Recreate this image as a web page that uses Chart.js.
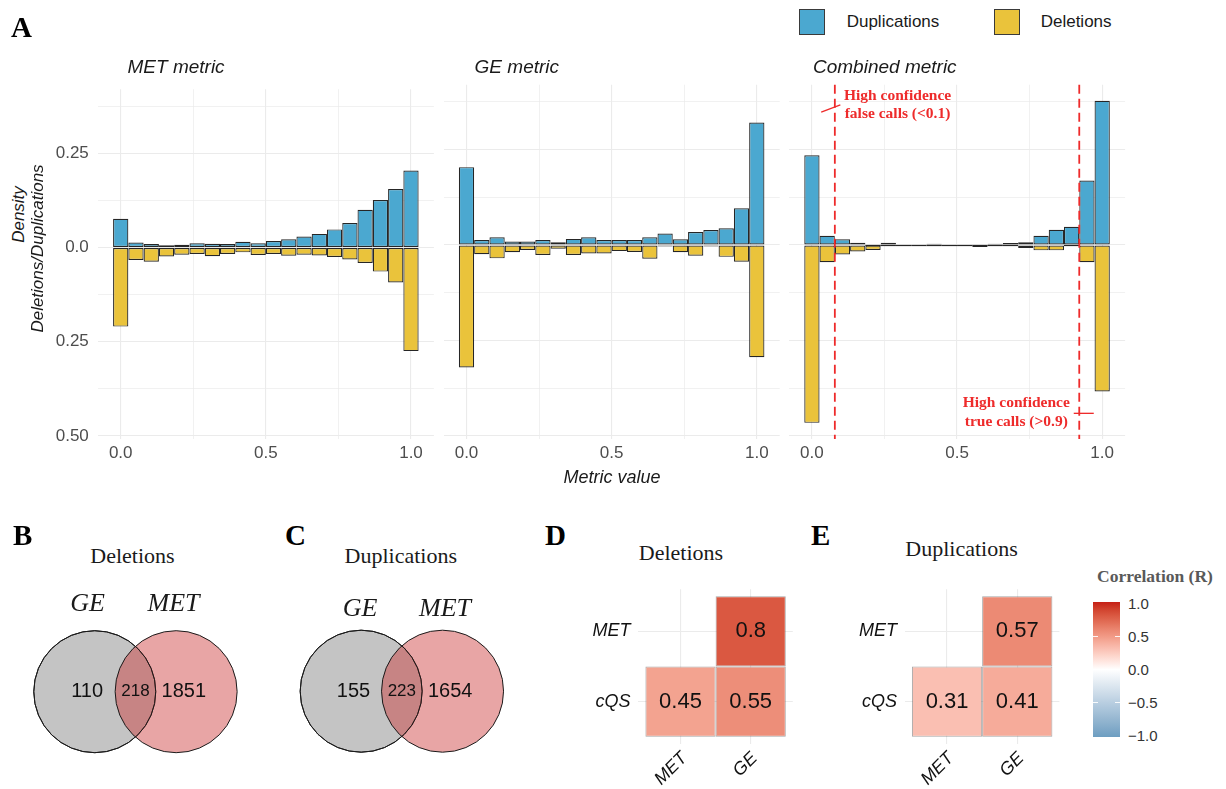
<!DOCTYPE html>
<html>
<head>
<meta charset="utf-8">
<script src="https://cdn.jsdelivr.net/npm/chart.js@4.4.1/dist/chart.umd.min.js"></script>
<style>
  html, body { margin: 0; padding: 0; background: #ffffff; }
  #fig { position: relative; width: 1226px; height: 789px; overflow: hidden;
         font-family: "Liberation Sans", Arial, sans-serif; color: #1a1a1a; }
  #fig canvas { position: absolute; }
  .t { position: absolute; white-space: nowrap; line-height: 1; }
</style>
</head>
<body>
<div id="fig"></div>
<script>
// ---------------- data ----------------
// histogram bins (20 bins spanning 0..1, centred on the bin midpoints)
const binCentres = [0, 0.0526, 0.1053, 0.1579, 0.2105, 0.2632, 0.3158, 0.3684, 0.4211, 0.4737,
                    0.5263, 0.5789, 0.6316, 0.6842, 0.7368, 0.7895, 0.8421, 0.8947, 0.9474, 1];

// density per bin; deletions are drawn below the axis
const metDuplications = [0.076, 0.013, 0.009, 0.006, 0.007, 0.011, 0.010, 0.009, 0.015, 0.011,
                         0.017, 0.022, 0.029, 0.036, 0.048, 0.065, 0.100, 0.126, 0.155, 0.204];
const metDeletions    = [0.210, 0.033, 0.038, 0.024, 0.019, 0.017, 0.023, 0.017, 0.013, 0.020,
                         0.017, 0.022, 0.019, 0.021, 0.025, 0.032, 0.041, 0.064, 0.093, 0.275];

const geDuplications  = [0.204, 0.013, 0.020, 0.009, 0.009, 0.013, 0.007, 0.016, 0.020, 0.013,
                         0.013, 0.013, 0.020, 0.030, 0.015, 0.034, 0.039, 0.044, 0.096, 0.321];
const geDeletions     = [0.321, 0.024, 0.035, 0.019, 0.013, 0.026, 0.010, 0.026, 0.022, 0.022,
                         0.016, 0.018, 0.036, 0.004, 0.019, 0.028, 0.004, 0.031, 0.044, 0.294];

const combDuplications = [0.235, 0.024, 0.015, 0.006, 0, 0.006, 0, 0, 0.003, 0,
                          0, 0, 0.003, 0.005, 0.007, 0.024, 0.040, 0.048, 0.169, 0.378];
const combDeletions    = [0.466, 0.045, 0.025, 0.017, 0.013, 0, 0, 0, 0, 0,
                          0, 0.005, 0, 0, 0.008, 0.014, 0.014, 0, 0.045, 0.384];

const panelTitles = ['MET metric', 'GE metric', 'Combined metric'];
const seriesNames = ['Duplications', 'Deletions'];

// axis ticks
const densityMajor  = [-0.5, -0.25, 0, 0.25];
const densityLabels = ['0.50', '0.25', '0.0', '0.25'];
const densityMinor  = [-0.375, -0.125, 0.125, 0.375];
const metricMajor   = [0, 0.5, 1];
const metricLabels  = ['0.0', '0.5', '1.0'];
const metricMinor   = [0.25, 0.75];

// confidence cut-offs on the combined metric
const thresholds = [0.079, 0.921];

// Venn counts: [GE only, both, MET only]
const vennSets = ['GE', 'MET'];
const vennDeletions = [110, 218, 1851];
const vennDuplications = [155, 223, 1654];

// correlation matrices (rows bottom->top, columns left->right)
const corrRows = ['cQS', 'MET'];
const corrCols = ['MET', 'GE'];
const corrDeletions    = [[0.45, 0.55], [null, 0.8]];
const corrDuplications = [[0.31, 0.41], [null, 0.57]];
const colourbarTicks  = [1, 0.5, 0, -0.5, -1];
const colourbarLabels = ['1.0', '0.5', '0.0', '\u22120.5', '\u22121.0'];

// ---------------- styles ----------------
const DUP_FILL = '#4BA8D0';
const DEL_FILL = '#EAC33B';
const BAR_EDGE = '#262626';
const GRID = '#EBEBEB';
const RED = '#EE2B2B';
const SANS = '"Liberation Sans", Arial, sans-serif';
const SERIF = '"Liberation Serif", "Times New Roman", serif';

Chart.defaults.font.family = SANS;
Chart.defaults.animation = false;

const fig = document.getElementById('fig');

function addCanvas(box) {
  const c = document.createElement('canvas');
  c.width = box.w; c.height = box.h;
  c.style.left = box.x + 'px'; c.style.top = box.y + 'px';
  c.style.width = box.w + 'px'; c.style.height = box.h + 'px';
  fig.appendChild(c);
  return c;
}

function label(text, x, y, style, anchor) {
  const d = document.createElement('div');
  d.className = 't';
  d.textContent = text;
  Object.assign(d.style, style);
  const fs = parseFloat(style.fontSize);
  d.style.left = x + 'px';
  d.style.top = (y - fs / 2) + 'px';
  if (anchor === 'center') d.style.transform = 'translateX(-50%)';
  if (anchor === 'right') d.style.transform = 'translateX(-100%)';
  if (anchor === 'vertical') d.style.transform = 'translateX(-50%) rotate(-90deg)';
  fig.appendChild(d);
  return d;
}

// padding + fixed axis sizes so the plot area lands on `area`
function frame(box, area) {
  return {
    padding: { left: 0, top: area.t - box.y, right: box.x + box.w - area.r, bottom: 0 },
    yWidth: area.l - box.x,
    xHeight: box.y + box.h - area.b
  };
}

// ---------------- colour scale (Lab interpolation through white) ----------------
function hexRgb(h) { return [1, 3, 5].map(i => parseInt(h.slice(i, i + 2), 16)); }
function lin(c) { c /= 255; return c <= 0.04045 ? c / 12.92 : Math.pow((c + 0.055) / 1.055, 2.4); }
function gam(c) { const v = c <= 0.0031308 ? 12.92 * c : 1.055 * Math.pow(c, 1 / 2.4) - 0.055; return Math.round(Math.max(0, Math.min(1, v)) * 255); }
function rgbLab(rgb) {
  const [r, g, b] = rgb.map(lin);
  const X = (0.4124 * r + 0.3576 * g + 0.1805 * b) / 0.95047;
  const Y = 0.2126 * r + 0.7152 * g + 0.0722 * b;
  const Z = (0.0193 * r + 0.1192 * g + 0.9505 * b) / 1.08883;
  const f = t => t > 0.008856 ? Math.cbrt(t) : 7.787 * t + 16 / 116;
  const fx = f(X), fy = f(Y), fz = f(Z);
  return [116 * fy - 16, 500 * (fx - fy), 200 * (fy - fz)];
}
function labRgb([L, a, b]) {
  const fy = (L + 16) / 116, fx = fy + a / 500, fz = fy - b / 200;
  const fi = t => t * t * t > 0.008856 ? t * t * t : (t - 16 / 116) / 7.787;
  const X = fi(fx) * 0.95047, Y = fi(fy), Z = fi(fz) * 1.08883;
  return [3.2406 * X - 1.5372 * Y - 0.4986 * Z,
          -0.9689 * X + 1.8758 * Y + 0.0415 * Z,
          0.0557 * X - 0.2040 * Y + 1.0570 * Z].map(gam);
}
const CORR_LOW = '#6D9EC1', CORR_HIGH = '#C62016';
function corrColour(v) {
  const t = Math.min(1, Math.abs(v));
  const A = rgbLab([255, 255, 255]);
  const B = rgbLab(hexRgb(v >= 0 ? CORR_HIGH : CORR_LOW));
  const c = labRgb(A.map((x, i) => x + (B[i] - x) * t));
  return `rgb(${c[0]},${c[1]},${c[2]})`;
}

// ---------------- histogram panels ----------------
const binHalf = (binCentres[1] - binCentres[0]) / 2;
const xSpan = binCentres[binCentres.length - 1] - binCentres[0] + 2 * binHalf;
const X_MIN = binCentres[0] - binHalf - 0.05 * xSpan;
const X_MAX = binCentres[binCentres.length - 1] + binHalf + 0.05 * xSpan;
const Y_MIN = -0.508, Y_MAX = 0.420;

// empty bins are still outlined: a flat stroke along zero
const emptyBins = {
  id: 'emptyBins',
  afterDatasetsDraw(chart) {
    const { ctx, scales: { x, y } } = chart;
    const [dup, del] = chart.data.datasets.map(d => d.data);
    const py = Math.round(y.getPixelForValue(0)) + 0.5;
    ctx.save();
    ctx.strokeStyle = BAR_EDGE; ctx.lineWidth = 1.2;
    binCentres.forEach((c, i) => {
      if (dup[i].y !== 0 && del[i].y !== 0) return;
      ctx.beginPath();
      ctx.moveTo(x.getPixelForValue(c - binHalf), py);
      ctx.lineTo(x.getPixelForValue(c + binHalf), py);
      ctx.stroke();
    });
    ctx.restore();
  }
};

const confidenceNotes = [
  { lines: ['High confidence', 'false calls (<0.1)'], x: 0.295, y: [0.390, 0.342], seg: [[0.032, 0.348], [0.098, 0.367]] },
  { lines: ['High confidence', 'true calls (>0.9)'],  x: 0.704, y: [-0.415, -0.463], seg: [[0.902, -0.441], [0.971, -0.441]] }
];
const confidenceMarks = {
  id: 'confidenceMarks',
  afterDatasetsDraw(chart) {
    const { ctx, chartArea, scales: { x, y } } = chart;
    ctx.save();
    ctx.strokeStyle = RED; ctx.lineWidth = 1.8; ctx.setLineDash([9, 5]);
    thresholds.forEach(t => {
      const px = x.getPixelForValue(t);
      ctx.beginPath(); ctx.moveTo(px, chartArea.top); ctx.lineTo(px, chartArea.bottom); ctx.stroke();
    });
    ctx.setLineDash([]); ctx.lineWidth = 1.3;
    ctx.fillStyle = RED;
    ctx.font = 'bold 15.5px ' + SERIF;
    ctx.textAlign = 'center'; ctx.textBaseline = 'middle';
    confidenceNotes.forEach(n => {
      ctx.beginPath();
      ctx.moveTo(x.getPixelForValue(n.seg[0][0]), y.getPixelForValue(n.seg[0][1]));
      ctx.lineTo(x.getPixelForValue(n.seg[1][0]), y.getPixelForValue(n.seg[1][1]));
      ctx.stroke();
      n.lines.forEach((s, i) => ctx.fillText(s, x.getPixelForValue(n.x), y.getPixelForValue(n.y[i])));
    });
    ctx.restore();
  }
};

function histogram(box, area, dup, del, showY, extra) {
  const f = frame(box, area);
  const ticksOf = (maj, min) => maj.concat(min).sort((a, b) => a - b).map(v => ({ value: v }));
  return new Chart(addCanvas(box), {
    type: 'bar',
    data: {
      datasets: [
        { label: seriesNames[0], data: binCentres.map((x, i) => ({ x, y: dup[i] })), backgroundColor: DUP_FILL },
        { label: seriesNames[1], data: binCentres.map((x, i) => ({ x, y: -del[i] })), backgroundColor: DEL_FILL }
      ]
    },
    options: {
      responsive: false, devicePixelRatio: 1, events: [],
      layout: { padding: f.padding },
      datasets: { bar: { grouped: false, barPercentage: 1, categoryPercentage: 1, borderWidth: 1.2,
                         borderColor: BAR_EDGE, borderSkipped: false, inflateAmount: 0 } },
      plugins: { legend: { display: false }, tooltip: { enabled: false } },
      scales: {
        x: {
          type: 'linear', min: X_MIN, max: X_MAX, offset: false,
          afterBuildTicks: a => { a.ticks = ticksOf(metricMajor, metricMinor); },
          afterFit: a => { a.height = f.xHeight; },
          grid: { offset: false, color: GRID, drawTicks: false,
                  lineWidth: c => metricMajor.includes(c.tick.value) ? 1.1 : 0.7 },
          border: { display: false },
          ticks: { autoSkip: false, maxRotation: 0, padding: 4, color: '#4D4D4D', font: { size: 17 },
                   callback: v => { const i = metricMajor.indexOf(v); return i < 0 ? '' : metricLabels[i]; } }
        },
        y: {
          type: 'linear', min: Y_MIN, max: Y_MAX,
          afterBuildTicks: a => { a.ticks = ticksOf(densityMajor, densityMinor); },
          afterFit: a => { a.width = f.yWidth; },
          grid: { color: GRID, drawTicks: false,
                  lineWidth: c => densityMajor.includes(c.tick.value) ? 1.1 : 0.7 },
          border: { display: false },
          ticks: { display: showY, padding: 9, color: '#4D4D4D', font: { size: 17 },
                   callback: v => { const i = densityMajor.indexOf(v); return i < 0 ? '' : densityLabels[i]; } }
        }
      }
    },
    plugins: [emptyBins].concat(extra || [])
  });
}

const plotTop = 84.7, plotBottom = 438.9, plotWidth = 336.1;
const panelLefts = [97.8, 443.6, 789.0];
histogram({ x: 30, y: 70, w: 410, h: 400 },
          { l: panelLefts[0], t: plotTop, r: panelLefts[0] + plotWidth, b: plotBottom },
          metDuplications, metDeletions, true);
histogram({ x: 440, y: 70, w: 346, h: 400 },
          { l: panelLefts[1], t: plotTop, r: panelLefts[1] + plotWidth, b: plotBottom },
          geDuplications, geDeletions, false);
histogram({ x: 786, y: 70, w: 349, h: 400 },
          { l: panelLefts[2], t: plotTop, r: panelLefts[2] + plotWidth, b: plotBottom },
          combDuplications, combDeletions, false, [confidenceMarks]);

// panel titles, axis titles, legend
const titleStyle = { fontSize: '19px', fontStyle: 'italic', color: '#1a1a1a' };
label(panelTitles[0], 127.5, 66.5, titleStyle);
label(panelTitles[1], 474.6, 66.5, titleStyle);
label(panelTitles[2], 813, 66.5, titleStyle);
label('Metric value', 612, 477, { fontSize: '18px', fontStyle: 'italic', color: '#1a1a1a' }, 'center');

const axisTitle = { fontSize: '17px', fontStyle: 'italic', color: '#1a1a1a' };
label('Density', 18, 214, axisTitle, 'vertical');
label('Deletions/Duplications', 37, 248, axisTitle, 'vertical');

function legendKey(x, fill, text, tx) {
  const k = document.createElement('div');
  Object.assign(k.style, { position: 'absolute', left: x + 'px', top: '9px', width: '24px', height: '24px',
    background: fill, border: '1.2px solid #3a3a3a' });
  fig.appendChild(k);
  label(text, tx, 21.7, { fontSize: '17px', color: '#1a1a1a' });
}
legendKey(799, DUP_FILL, seriesNames[0], 846.7);
legendKey(994, DEL_FILL, seriesNames[1], 1040.7);

// ---------------- Venn diagrams ----------------
const VENN_R = 61;
const vennCentres = [-0.667, 0.667];
const vennCounts = {
  id: 'vennCounts',
  afterDatasetsDraw(chart) {
    const { ctx, scales: { x, y } } = chart;
    const counts = chart.options.plugins.vennCounts.counts;
    const py = y.getPixelForValue(0);
    ctx.save();
    ctx.fillStyle = '#111'; ctx.textAlign = 'center'; ctx.textBaseline = 'middle';
    ctx.font = '20px ' + SANS;
    ctx.fillText(String(counts[0]), x.getPixelForValue(vennCentres[0] - 0.125), py);
    ctx.fillText(String(counts[2]), x.getPixelForValue(vennCentres[1] + 0.125), py);
    ctx.font = '17px ' + SANS;
    ctx.fillText(String(counts[1]), x.getPixelForValue((vennCentres[0] + vennCentres[1]) / 2), py);
    ctx.restore();
  }
};
function venn(box, cx, cy, counts) {
  const left = (box.x - cx) / VENN_R, right = (box.x + box.w - cx) / VENN_R;
  const top = (cy - box.y) / VENN_R, bottom = (cy - box.y - box.h) / VENN_R;
  const radius = c => c.chart.scales.x.getPixelForValue(1) - c.chart.scales.x.getPixelForValue(0);
  // lower `order` is painted last (on top)
  const circle = (i, fill, order) => ({ data: [{ x: vennCentres[i], y: 0 }], backgroundColor: fill,
                                        borderColor: '#1a1a1a', borderWidth: 1, pointRadius: radius, clip: false, order });
  new Chart(addCanvas(box), {
    type: 'scatter',
    data: { datasets: [circle(0, '#C4C4C4', 3), circle(1, 'rgba(205,55,55,0.45)', 2), circle(0, 'rgba(0,0,0,0)', 1)] },
    options: {
      responsive: false, devicePixelRatio: 1, events: [],
      layout: { padding: 0 },
      plugins: { legend: { display: false }, tooltip: { enabled: false }, vennCounts: { counts } },
      scales: { x: { display: false, min: left, max: right }, y: { display: false, min: bottom, max: top } }
    },
    plugins: [vennCounts]
  });
}
venn({ x: 0, y: 615, w: 271, h: 150 }, 135.45, 691.7, vennDeletions);
venn({ x: 271, y: 615, w: 262, h: 150 }, 401.85, 691.2, vennDuplications);

const letterStyle = { fontSize: '29px', fontWeight: 'bold', fontFamily: SERIF, color: '#000' };
label('A', 11, 27.5, letterStyle);
label('B', 13, 535, letterStyle);
label('C', 285, 535, letterStyle);
label('D', 545, 535, letterStyle);
label('E', 811, 535, letterStyle);

const subTitle = { fontSize: '22px', fontFamily: SERIF, color: '#1a1a1a' };
const setStyle = { fontSize: '26px', fontFamily: SERIF, fontStyle: 'italic', color: '#1a1a1a' };
label('Deletions', 132.5, 556, subTitle, 'center');
label(vennSets[0], 87.5, 602.5, setStyle, 'center');
label(vennSets[1], 173.5, 602.5, setStyle, 'center');
label('Duplications', 400.8, 556, subTitle, 'center');
label(vennSets[0], 360, 608, setStyle, 'center');
label(vennSets[1], 445, 608, setStyle, 'center');

// ---------------- correlation heatmaps ----------------
const tileValues = {
  id: 'tileValues',
  afterDatasetsDraw(chart) {
    const { ctx, scales: { x, y } } = chart;
    ctx.save();
    ctx.fillStyle = '#111'; ctx.font = '22px ' + SANS; ctx.textAlign = 'center'; ctx.textBaseline = 'middle';
    chart.data.datasets[0].data.forEach(t => {
      ctx.fillText(String(t.v), x.getPixelForValue(t.x), y.getPixelForValue((t.y[0] + t.y[1]) / 2));
    });
    ctx.restore();
  }
};
function corrMatrix(box, area, values) {
  const f = frame(box, area);
  const tiles = [];
  corrRows.forEach((r, ri) => corrCols.forEach((c, ci) => {
    const v = values[ri][ci];
    if (v !== null) tiles.push({ x: ci + 1, y: [ri + 0.5, ri + 1.5], v });
  }));
  const positions = () => [1, 2].map(v => ({ value: v }));
  const axisFont = { size: 18, style: 'italic' };
  new Chart(addCanvas(box), {
    type: 'bar',
    data: { datasets: [{ data: tiles, backgroundColor: tiles.map(t => corrColour(t.v)),
                         borderColor: 'rgba(95,95,95,0.55)', borderWidth: 1, borderSkipped: false,
                         barPercentage: 1, categoryPercentage: 1, inflateAmount: 0 }] },
    options: {
      responsive: false, devicePixelRatio: 1, events: [],
      layout: { padding: f.padding },
      plugins: { legend: { display: false }, tooltip: { enabled: false } },
      scales: {
        x: { type: 'linear', min: 0.4, max: 2.6, offset: false,
             afterBuildTicks: a => { a.ticks = positions(); },
             afterFit: a => { a.height = f.xHeight; },
             grid: { offset: false, color: GRID, lineWidth: 1.1, drawTicks: false },
             border: { display: false },
             ticks: { autoSkip: false, minRotation: 45, maxRotation: 45, padding: 4, labelOffset: 4,
                      color: '#111', font: axisFont, callback: v => corrCols[v - 1] } },
        y: { type: 'linear', min: 0.4, max: 2.6,
             afterBuildTicks: a => { a.ticks = positions(); },
             afterFit: a => { a.width = f.yWidth; },
             grid: { color: GRID, lineWidth: 1.1, drawTicks: false },
             border: { display: false },
             ticks: { padding: 8, color: '#111', font: axisFont, callback: v => corrRows[v - 1] } }
      }
    },
    plugins: [tileValues]
  });
}
corrMatrix({ x: 575, y: 570, w: 235, h: 219 }, { l: 638.4, t: 589.2, r: 792.8, b: 743.8 }, corrDeletions);
corrMatrix({ x: 845, y: 570, w: 235, h: 219 }, { l: 904.9, t: 589.2, r: 1059.4, b: 743.8 }, corrDuplications);
label('Deletions', 681, 552.5, subTitle, 'center');
label('Duplications', 961.5, 548.5, subTitle, 'center');

// colour bar legend
label('Correlation (R)', 1155, 577, { fontSize: '17.5px', fontFamily: SERIF, fontWeight: 'bold', color: '#595959' }, 'center');
const barTop = 601.7, barBottom = 736.9, barLeft = 1092.7, barWidth = 27.3;
const stops = [];
for (let k = 0; k <= 20; k++) { const v = 1 - k / 10; stops.push(corrColour(v) + ' ' + (k * 5) + '%'); }
const bar = document.createElement('div');
Object.assign(bar.style, { position: 'absolute', left: barLeft + 'px', top: barTop + 'px', width: barWidth + 'px',
  height: (barBottom - barTop) + 'px', background: 'linear-gradient(to bottom,' + stops.join(',') + ')' });
fig.appendChild(bar);
const valueToBarY = v => barTop + 1.6 + (1 - v) / 2 * (barBottom - barTop - 3.2);
colourbarTicks.forEach((v, i) => {
  const py = valueToBarY(v);
  if (Math.abs(v) < 1) {
    [barLeft, barLeft + barWidth - 5].forEach(px => {
      const m = document.createElement('div');
      Object.assign(m.style, { position: 'absolute', left: px + 'px', top: (py - 0.5) + 'px', width: '5px',
        height: '1px', background: 'rgba(255,255,255,0.9)' });
      fig.appendChild(m);
    });
  }
  label(colourbarLabels[i], 1128, py, { fontSize: '15px', color: '#333' });
});
</script>
</body>
</html>
